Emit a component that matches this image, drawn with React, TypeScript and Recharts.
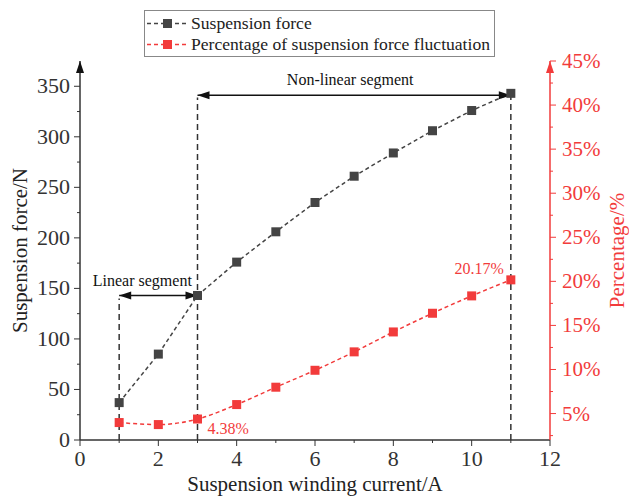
import React from 'react';
import {
  ComposedChart, Line, XAxis, YAxis, ReferenceLine, ReferenceDot, Legend,
} from 'recharts';

const currents = [1, 2, 3, 4, 5, 6, 7, 8, 9, 10, 11];
const forceValues = [37, 85, 143, 176, 206, 235, 261, 284, 306, 326, 343];
const percentValues = [3.98, 3.75, 4.38, 6.02, 7.99, 9.91, 12.0, 14.26, 16.38, 18.35, 20.17];

const xTicks = [0, 1, 2, 3, 4, 5, 6, 7, 8, 9, 10, 11, 12];
const leftTicks = [0, 25, 50, 75, 100, 125, 150, 175, 200, 225, 250, 275, 300, 325, 350];
const rightTicks = [2.5, 5, 7.5, 10, 12.5, 15, 17.5, 20, 22.5, 25, 27.5, 30, 32.5, 35, 37.5, 40, 42.5, 45];

const seriesNames = ['Suspension force', 'Percentage of suspension force fluctuation'];

const data = currents.map((c, i) => ({ x: c, force: forceValues[i], pct: percentValues[i] }));

const RED = '#f23b3b';
const GRAY = '#444444';
const FONT = '"Liberation Serif", "Times New Roman", serif';

const Square = (color: string) => (props: any) => {
  const { cx, cy } = props;
  if (cx == null || cy == null) return null;
  return <rect x={cx - 4.5} y={cy - 4.5} width={9} height={9} fill={color} />;
};

const XTick = (props: any) => {
  const { x, y, payload } = props;
  const major = payload.value % 2 === 0;
  return (
    <g>
      <line x1={x} y1={y - 8} x2={x} y2={y - 8 + (major ? 6 : 3)} stroke="#333" strokeWidth={1} />
      {major && (
        <text x={x} y={y + 18} textAnchor="middle" fontSize={22} fontFamily={FONT} fill="#333">
          {payload.value}
        </text>
      )}
    </g>
  );
};

const LeftTick = (props: any) => {
  const { x, y, payload } = props;
  const major = payload.value % 50 === 0;
  return (
    <g>
      <line x1={x + 8} y1={y} x2={x + 8 - (major ? 6 : 3)} y2={y} stroke="#333" strokeWidth={1} />
      {major && (
        <text x={x - 2} y={y + 7} textAnchor="end" fontSize={22} fontFamily={FONT} fill="#333">
          {payload.value}
        </text>
      )}
    </g>
  );
};

const RightTick = (props: any) => {
  const { x, y, payload } = props;
  const major = payload.value % 5 === 0;
  return (
    <g>
      <line x1={x - 8} y1={y} x2={x - 8 + (major ? 6 : 3)} y2={y} stroke={RED} strokeWidth={1} />
      {major && (
        <text x={x + 4} y={y + 7} textAnchor="start" fontSize={21} fontFamily={FONT} fill={RED}>
          {payload.value + '%'}
        </text>
      )}
    </g>
  );
};

const arrowHead = (dir: 'left' | 'right' | 'up', color: string) => (props: any) => {
  const { cx, cy } = props;
  if (cx == null || cy == null) return null;
  let pts = '';
  if (dir === 'left') pts = `${cx},${cy} ${cx + 12},${cy - 4} ${cx + 12},${cy + 4}`;
  if (dir === 'right') pts = `${cx},${cy} ${cx - 12},${cy - 4} ${cx - 12},${cy + 4}`;
  if (dir === 'up') pts = `${cx},${cy} ${cx - 4},${cy + 12} ${cx + 4},${cy + 12}`;
  return <polygon points={pts} fill={color} />;
};

const textShape = (txt: string, dx: number, dy: number, anchor: string, color: string, size: number) => (props: any) => {
  const { cx, cy } = props;
  if (cx == null || cy == null) return null;
  return (
    <text x={cx + dx} y={cy + dy} textAnchor={anchor as any} fontSize={size} fontFamily={FONT} fill={color}>
      {txt}
    </text>
  );
};

const LegendContent = () => (
  <div
    style={{
      border: '1px solid #888',
      width: 351,
      height: 47,
      boxSizing: 'border-box',
      fontFamily: FONT,
      fontSize: 17.6,
      background: '#fff',
      position: 'relative',
      textAlign: 'left',
    }}
  >
    {[GRAY, RED].map((c, i) => (
      <div key={i} style={{ position: 'absolute', left: 0, top: 2 + i * 21, height: 21, display: 'flex', alignItems: 'center', fontFamily: FONT }}>
        <svg width={46} height={21}>
          <line x1={2} y1={10.5} x2={42} y2={10.5} stroke={c} strokeWidth={1.5} strokeDasharray="4 3" />
          <rect x={18} y={6} width={9} height={9} fill={c} />
        </svg>
        <span style={{ color: '#222', whiteSpace: 'nowrap', fontFamily: FONT }}>{seriesNames[i]}</span>
      </div>
    ))}
  </div>
);

export default function App() {
  return (
    <div style={{ position: 'absolute', left: 0, top: 0, width: 629, height: 496, background: '#fff' }}>
      <ComposedChart
        width={629}
        height={496}
        data={data}
        margin={{ top: 61, right: 0, left: 0, bottom: 0 }}
      >
        <XAxis
          xAxisId="bottom"
          dataKey="x"
          type="number"
          domain={[0, 12]}
          ticks={xTicks}
          interval={0}
          tick={<XTick />}
          tickLine={false}
          axisLine={{ stroke: '#333', strokeWidth: 1.5 }}
          height={56}
          label={{ value: 'Suspension winding current/A', position: 'insideBottom', offset: 5, fontSize: 21, fontFamily: FONT, fill: '#222' }}
        />
        <XAxis
          xAxisId="top"
          orientation="top"
          type="number"
          domain={[0, 12]}
          tick={false}
          tickLine={false}
          axisLine={{ stroke: '#222', strokeWidth: 1.5 }}
          height={0}
        />
        <YAxis
          yAxisId="left"
          type="number"
          domain={[0, 375]}
          ticks={leftTicks}
          interval={0}
          tick={<LeftTick />}
          tickLine={false}
          axisLine={{ stroke: '#333', strokeWidth: 1.5 }}
          width={80}
          label={{ value: 'Suspension force/N', angle: -90, position: 'insideLeft', offset: 20, fontSize: 21, fontFamily: FONT, fill: '#222', style: { textAnchor: 'middle' } }}
        />
        <YAxis
          yAxisId="right"
          orientation="right"
          type="number"
          domain={[2, 45]}
          ticks={rightTicks}
          interval={0}
          tick={<RightTick />}
          tickLine={false}
          axisLine={{ stroke: RED, strokeWidth: 1.5 }}
          width={79}
          label={{ value: 'Percentage/%', angle: -90, position: 'insideRight', offset: 12, fontSize: 21, fontFamily: FONT, fill: RED, style: { textAnchor: 'middle' } }}
        />
        <Legend
          layout="horizontal"
          verticalAlign="middle"
          align="center"
          content={<LegendContent />}
          wrapperStyle={{ position: 'absolute', left: 144, top: 10, width: 351, height: 47 }}
        />

        {/* annotation dashed verticals */}
        <ReferenceLine xAxisId="bottom" yAxisId="left" segment={[{ x: 1, y: 0 }, { x: 1, y: 140 }]} stroke="#333" strokeWidth={1.5} strokeDasharray="6 4" />
        <ReferenceLine xAxisId="bottom" yAxisId="left" segment={[{ x: 3, y: 0 }, { x: 3, y: 339 }]} stroke="#333" strokeWidth={1.5} strokeDasharray="6 4" />
        <ReferenceLine xAxisId="bottom" yAxisId="left" segment={[{ x: 11, y: 0 }, { x: 11, y: 343 }]} stroke="#333" strokeWidth={1.5} strokeDasharray="6 4" />

        {/* arrows */}
        <ReferenceLine xAxisId="bottom" yAxisId="left" segment={[{ x: 1, y: 143 }, { x: 3, y: 143 }]} stroke="#111" strokeWidth={1.5} />
        <ReferenceLine xAxisId="bottom" yAxisId="left" segment={[{ x: 3, y: 341 }, { x: 11, y: 341 }]} stroke="#111" strokeWidth={1.5} />
        <ReferenceDot xAxisId="bottom" yAxisId="left" x={1} y={143} shape={arrowHead('left', '#111')} />
        <ReferenceDot xAxisId="bottom" yAxisId="left" x={3} y={143} shape={arrowHead('right', '#111')} />
        <ReferenceDot xAxisId="bottom" yAxisId="left" x={3} y={341} shape={arrowHead('left', '#111')} />
        <ReferenceDot xAxisId="bottom" yAxisId="left" x={11} y={341} shape={arrowHead('right', '#111')} />

        {/* axis arrows */}
        <ReferenceDot xAxisId="bottom" yAxisId="left" x={0} y={375} shape={arrowHead('up', '#111')} />
        <ReferenceDot xAxisId="bottom" yAxisId="right" x={12} y={45} shape={arrowHead('up', RED)} />

        {/* texts */}
        <ReferenceDot xAxisId="bottom" yAxisId="left" x={2} y={143} shape={textShape('Linear segment', -16, -9, 'middle', '#111', 16)} />
        <ReferenceDot xAxisId="bottom" yAxisId="left" x={7} y={341} shape={textShape('Non-linear segment', -4, -10, 'middle', '#111', 16)} />
        <ReferenceDot xAxisId="bottom" yAxisId="right" x={3} y={4.38} shape={textShape('4.38%', 10, 15, 'start', RED, 16)} />
        <ReferenceDot xAxisId="bottom" yAxisId="right" x={11} y={20.17} shape={textShape('20.17%', -7, -6, 'end', RED, 16)} />

        <Line
          xAxisId="bottom"
          yAxisId="left"
          dataKey="force"
          name={seriesNames[0]}
          stroke={GRAY}
          strokeWidth={1.5}
          strokeDasharray="4 3"
          dot={Square(GRAY)}
          type="linear"
          isAnimationActive={false}
        />
        <Line
          xAxisId="bottom"
          yAxisId="right"
          dataKey="pct"
          name={seriesNames[1]}
          stroke={RED}
          strokeWidth={1.5}
          strokeDasharray="4 3"
          dot={Square(RED)}
          type="monotone"
          isAnimationActive={false}
        />
      </ComposedChart>
    </div>
  );
}
